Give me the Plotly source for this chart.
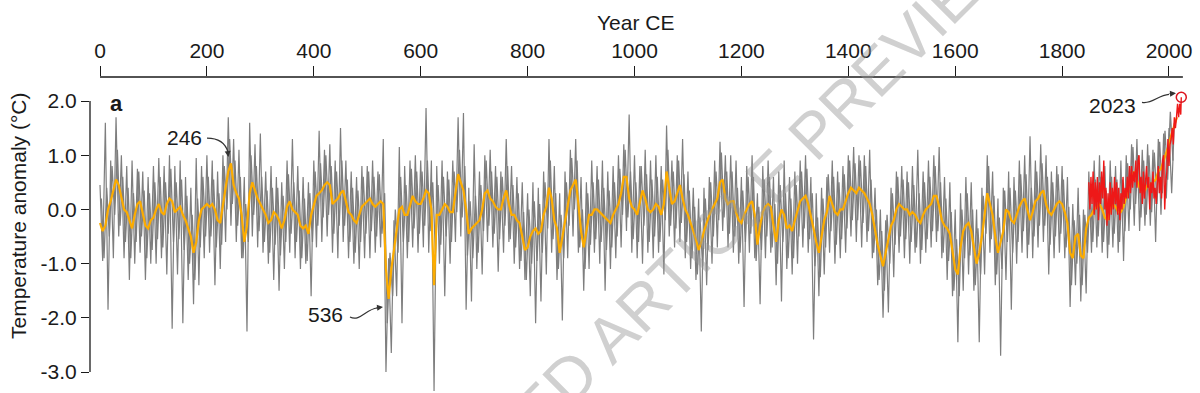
import plotly.graph_objects as go

# ---------------- data ----------------
# Smoothed reconstruction (orange), 5-year steps starting at year 0
orange = [
    -0.25, -0.4, -0.3, 0.0, 0.15, 0.35, 0.55, 0.45, 0.2, 0.0, -0.05, -0.2, -0.35, -0.1, 0.1, 0.15, -0.1, -0.3, -0.35, -0.2,
    -0.15, 0.0, 0.1, -0.05, -0.1, 0.1, 0.2, 0.15, -0.05, 0.0, 0.05, -0.1, -0.2, -0.35, -0.5, -0.8, -0.6, -0.2, 0.0, 0.05,
    0.1, 0.05, 0.1, 0.0, -0.2, -0.25, 0.1, 0.4, 0.7, 0.85, 0.45, 0.3, 0.2, -0.1, -0.6, -0.3, 0.3, 0.5, 0.35, 0.2,
    0.1, 0.0, -0.1, -0.25, -0.2, -0.05, -0.1, -0.2, -0.35, -0.2, 0.05, 0.15, 0.0, -0.05, -0.1, -0.3, -0.35, -0.3, -0.45, -0.1,
    0.1, 0.25, 0.3, 0.35, 0.45, 0.5, 0.45, 0.1, 0.15, 0.2, 0.3, 0.35, 0.15, -0.05, -0.1, -0.2, -0.25, -0.1, 0.05, 0.1,
    0.15, 0.2, 0.1, 0.05, 0.1, 0.15, 0.1, -1.1, -1.65, -1.1, -0.75, -0.35, 0.0, 0.05, -0.1, -0.1, 0.1, 0.25, 0.15, 0.1,
    0.1, 0.2, 0.35, 0.3, 0.0, -1.4, -0.1, -0.1, 0.0, 0.1, 0.05, -0.05, -0.05, 0.3, 0.65, 0.5, 0.35, 0.0, -0.45, -0.35,
    -0.3, -0.25, -0.2, 0.0, 0.3, 0.35, 0.2, 0.15, 0.05, 0.0, 0.0, 0.2, 0.35, 0.1, -0.1, -0.1, -0.2, -0.25, -0.5, -0.75,
    -0.7, -0.5, -0.4, -0.35, -0.45, -0.4, -0.1, 0.05, 0.4, 0.2, -0.2, -0.35, -0.8, -0.5, -0.2, 0.1, 0.35, 0.45, 0.55, 0.1,
    -0.4, -0.7, -0.4, -0.1, -0.1, 0.0, 0.0, -0.05, -0.1, -0.15, -0.2, -0.25, -0.1, 0.0, 0.1, 0.3, 0.6, 0.6, 0.2, 0.05,
    0.0, -0.1, 0.1, 0.35, 0.2, 0.0, -0.05, 0.0, 0.1, 0.05, -0.1, 0.1, 0.7, 0.4, 0.1, 0.15, 0.3, 0.45, 0.2, 0.0,
    -0.1, -0.25, -0.4, -0.55, -0.75, -0.6, -0.4, -0.25, -0.1, 0.0, 0.1, 0.2, 0.5, 0.55, 0.2, 0.1, 0.15, 0.15, -0.05, -0.2,
    -0.25, -0.1, 0.0, 0.1, 0.15, -0.1, -0.65, -0.3, -0.05, 0.05, 0.1, 0.05, -0.3, -0.6, -0.2, 0.0, -0.1, -0.35, -0.3, -0.4,
    -0.2, 0.0, 0.15, 0.2, 0.25, 0.1, -0.1, -0.35, -0.6, -0.8, -0.5, -0.2, -0.05, 0.25, 0.1, -0.05, -0.1, 0.0, 0.0, 0.15,
    0.3, 0.4, 0.35, 0.3, 0.4, 0.35, 0.3, 0.2, 0.1, -0.1, -0.4, -0.65, -0.85, -1.05, -0.8, -0.55, -0.3, -0.2, 0.0, 0.1,
    0.05, 0.0, 0.0, -0.1, -0.05, -0.1, -0.2, -0.25, -0.1, 0.0, 0.05, 0.1, 0.25, 0.25, 0.05, -0.2, -0.3, -0.35, -0.45, -0.8,
    -1.1, -1.2, -0.7, -0.4, -0.3, -0.25, -0.4, -0.7, -1.0, -0.8, -0.5, -0.1, 0.3, 0.1, -0.1, -0.5, -0.8, -0.6, -0.4, 0.0,
    -0.05, -0.2, -0.25, -0.1, 0.05, 0.15, 0.2, 0.0, -0.2, -0.05, 0.15, 0.2, 0.3, 0.35, 0.1, -0.05, -0.1, 0.0, 0.1, 0.15,
    0.1, -0.05, -0.25, -0.8, -0.9, -0.5, -0.45, -0.85, -0.9, -0.35, -0.15, -0.1, 0.0, 0.05, 0.1, 0.0, -0.15, -0.2, 0.0, 0.1,
    0.05, -0.05, -0.05, 0.05, 0.25, 0.4, 0.6, 0.7, 0.55, 0.4, 0.35, 0.35, 0.45, 0.45, 0.5, 0.55, 0.7, 0.75, 0.9, 1.05,
    1.2, 1.4, 1.55, 1.7,
]

# Annual-scale reconstruction (gray), read as alternating highs / lows every 5 years from year 0
gray = [
    0.45, -0.95, 1.6, -1.85, 0.9, -0.9, 1.7, -0.5, 1.0, -0.9, 0.8, -1.3, 0.9, -1.0, 0.75, -0.8, 0.7, -1.3, 0.6, -1.0,
    0.8, -1.0, 0.95, -0.9, 0.8, -1.2, 1.0, -2.2, 0.8, -1.2, 0.9, -2.1, 0.6, -1.3, 0.4, -1.75, 0.95, -1.4, 0.8, -0.9,
    1.0, -0.8, 0.9, -1.4, 0.7, -1.1, 1.0, -0.6, 1.7, -0.3, 1.3, -0.6, 1.1, -0.9, 0.6, -2.25, 1.6, -0.5, 1.2, -0.7,
    1.4, -0.8, 0.7, -1.0, 0.8, -1.3, 0.6, -1.5, 0.5, -1.1, 0.9, -0.8, 1.3, -0.9, 0.8, -1.1, 0.6, -1.0, 0.5, -1.6,
    0.9, -0.7, 1.45, -0.6, 1.1, -0.5, 1.2, -0.8, 0.9, -0.9, 1.5, -0.6, 0.9, -0.9, 0.7, -1.0, 0.6, -1.1, 0.8, -0.9,
    0.8, -0.9, 0.9, -0.8, 0.7, -0.7, 1.3, -3.0, -0.9, -2.65, -0.2, -1.6, 1.15, -2.1, 0.8, -0.9, 0.9, -0.7, 1.0, -0.8,
    0.9, -0.7, 1.87, -0.8, 0.9, -3.35, 0.8, -1.0, 0.9, -1.6, 0.7, -1.0, 0.9, -0.6, 1.7, -0.5, 1.78, -1.85, 0.4, -1.7,
    1.2, -1.1, 0.7, -1.2, 1.0, -0.6, 1.1, -0.7, 0.8, -1.15, 0.7, -0.8, 1.3, -0.6, 0.8, -1.0, 0.6, -1.1, 0.5, -1.3,
    0.3, -1.6, 0.5, -2.1, 0.4, -1.7, 0.7, -1.2, 1.3, -0.8, 0.8, -1.3, 0.3, -2.05, 0.7, -0.9, 1.1, -0.5, 1.3, -0.8,
    0.6, -1.5, 0.5, -1.1, 0.9, -0.8, 0.8, -1.0, 0.9, -1.5, 0.7, -1.1, 0.8, -0.9, 1.0, -0.7, 1.2, -0.4, 1.75, -0.8,
    1.0, -0.9, 0.8, -1.0, 1.1, -0.8, 0.9, -0.9, 1.0, -0.8, 0.8, -1.2, 1.55, -0.5, 0.9, -0.7, 1.0, -0.6, 1.3, -0.9,
    0.7, -1.1, 0.4, -1.3, 0.2, -2.25, 0.4, -1.4, 0.6, -1.0, 0.9, -0.7, 1.25, -0.4, 1.0, -0.7, 1.0, -0.8, 0.9, -1.0,
    0.6, -1.8, 0.8, -0.8, 1.0, -0.9, 0.3, -1.75, 0.8, -0.9, 0.9, -0.8, 0.6, -1.4, 0.7, -1.7, 0.9, -1.1, 0.6, -1.2,
    0.7, -1.0, 0.9, -0.7, 1.0, -0.8, 0.6, -2.4, 0.3, -1.6, 0.4, -1.2, 0.6, -0.8, 0.9, -1.0, 0.7, -0.9, 0.8, -0.8,
    1.0, -0.5, 1.15, -0.6, 1.0, -0.7, 1.0, -0.6, 1.1, -0.9, 0.4, -1.4, 0.0, -2.0, -0.2, -1.9, 0.4, -1.25, 0.7, -0.8,
    0.8, -0.9, 0.7, -1.0, 0.8, -0.8, 1.1, -1.0, 0.7, -0.8, 0.9, -0.7, 1.0, -0.6, 1.15, -0.9, 0.6, -1.3, 0.5, -1.6,
    0.0, -2.45, 0.3, -1.5, 0.6, -1.2, 0.5, -1.5, 0.0, -2.45, 0.4, -1.2, 1.0, -0.8, 0.7, -1.4, 0.2, -2.7, 0.4, -1.3,
    0.7, -1.85, 0.6, -1.0, 0.9, -0.8, 1.0, -0.9, 1.35, -0.9, 0.9, -0.7, 1.2, -0.6, 1.0, -1.2, 0.7, -0.9, 0.8, -0.8,
    0.8, -0.9, 0.6, -1.8, 0.1, -1.4, 0.4, -1.7, 0.0, -1.55, 0.7, -0.8, 0.9, -0.7, 1.0, -0.8, 0.8, -0.9, 0.9, -0.7,
    0.8, -0.8, 0.9, -0.95, 1.0, -0.4, 1.2, -0.3, 1.3, -0.4, 1.1, -0.3, 1.2, -0.3, 1.1, -0.6, 1.3, -0.1, 1.4, 0.2,
    1.5, 0.3, 1.6,
]

# In-between years of the gray series (years 2.5, 7.5, ...), the dense core of the band
gray_mid = [
    0.2, -0.9, 0.4, -0.5, 0.8, -0.1, 1.1, -0.3, 0.6, -0.6, 0.4, -0.9, 0.3, -0.6, 0.7, -0.5, 0.35, -0.9, 0.3, -0.75,
    0.5, -0.55, 0.6, -0.7, 0.5, -0.45, 0.75, -0.6, 0.5, -0.55, 0.55, -0.75, 0.25, -1.0, -0.1, -1.3, 0.2, -0.7, 0.6, -0.5,
    0.6, -0.5, 0.55, -0.7, 0.3, -0.65, 0.8, 0.0, 1.3, 0.1, 0.9, -0.3, 0.6, -0.9, 0.1, -0.6, 1.0, -0.1, 0.8, -0.4,
    0.6, -0.6, 0.35, -0.8, 0.4, -0.65, 0.4, -0.85, 0.25, -0.6, 0.65, -0.45, 0.5, -0.6, 0.35, -0.9, 0.2, -0.95, 0.3, -0.6,
    0.7, -0.3, 0.85, -0.15, 1.0, -0.1, 0.8, -0.45, 0.7, -0.3, 0.9, -0.3, 0.55, -0.6, 0.4, -0.8, 0.35, -0.6, 0.6, -0.45,
    0.7, -0.4, 0.6, -0.5, 0.65, -0.45, 0.3, -2.1, -0.8, -1.6, 0.0, -0.8, 0.6, -0.6, 0.45, -0.6, 0.75, -0.35, 0.7, -0.45,
    0.7, -0.3, 0.9, -0.4, 0.5, -0.8, 0.45, -0.65, 0.6, -0.5, 0.55, -0.6, 0.7, -0.05, 1.1, -0.15, 0.8, -0.85, 0.15, -0.9,
    0.25, -0.8, 0.45, -0.4, 0.9, -0.3, 0.7, -0.45, 0.6, -0.55, 0.6, -0.3, 0.8, -0.55, 0.45, -0.7, 0.3, -0.95, -0.05, -1.3,
    0.0, -1.0, 0.15, -0.95, 0.1, -0.8, 0.5, -0.35, 0.9, -0.55, 0.3, -1.1, -0.1, -0.9, 0.5, -0.3, 0.95, 0.0, 0.9, -0.7,
    0.0, -1.1, 0.3, -0.65, 0.5, -0.55, 0.55, -0.6, 0.4, -0.75, 0.35, -0.7, 0.5, -0.5, 0.75, -0.1, 1.1, -0.15, 0.7, -0.55,
    0.5, -0.6, 0.8, -0.3, 0.65, -0.6, 0.55, -0.5, 0.6, -0.6, 0.55, -0.2, 1.1, -0.3, 0.7, -0.35, 0.9, -0.25, 0.65, -0.6,
    0.35, -0.9, 0.05, -1.2, -0.15, -1.05, 0.2, -0.75, 0.5, -0.5, 0.7, -0.2, 1.05, -0.15, 0.7, -0.45, 0.7, -0.5, 0.4, -0.8,
    0.35, -0.6, 0.6, -0.45, 0.6, -0.95, 0.05, -0.75, 0.55, -0.5, 0.6, -0.7, 0.1, -1.0, 0.45, -0.6, 0.3, -0.9, 0.2, -0.9,
    0.45, -0.5, 0.7, -0.35, 0.75, -0.55, 0.3, -1.05, -0.15, -1.25, 0.2, -0.7, 0.65, -0.4, 0.6, -0.65, 0.5, -0.55, 0.65, -0.35,
    0.9, -0.2, 0.85, -0.2, 0.9, -0.25, 0.8, -0.4, 0.55, -0.8, 0.0, -1.3, -0.4, -1.5, -0.1, -1.0, 0.3, -0.65, 0.6, -0.5,
    0.55, -0.55, 0.5, -0.6, 0.45, -0.7, 0.3, -0.75, 0.5, -0.55, 0.6, -0.4, 0.8, -0.4, 0.5, -0.8, 0.2, -0.95, -0.05, -1.5,
    -0.55, -1.6, 0.0, -0.9, 0.3, -0.85, 0.0, -1.4, -0.35, -1.2, 0.25, -0.45, 0.8, -0.55, 0.25, -1.2, -0.15, -1.1, 0.35, -0.6,
    0.4, -0.8, 0.35, -0.6, 0.65, -0.4, 0.65, -0.65, 0.4, -0.5, 0.7, -0.3, 0.85, -0.3, 0.6, -0.65, 0.5, -0.5, 0.65, -0.45,
    0.55, -0.7, 0.05, -1.4, -0.2, -1.0, -0.1, -1.4, -0.1, -0.8, 0.4, -0.6, 0.55, -0.5, 0.6, -0.6, 0.35, -0.65, 0.6, -0.45,
    0.55, -0.6, 0.55, -0.4, 0.85, 0.0, 1.15, 0.1, 1.0, -0.15, 0.9, -0.1, 1.0, -0.05, 1.05, 0.1, 1.25, 0.3, 1.45, 0.55,
    1.8, 0.9,
]

# Instrumental record (red)
red_years = list(range(1850, 2023, 2)) + [2023]
red = [
    0.5, 0.0, 0.6, 0.1, 0.7, -0.1, 0.5, 0.0, 0.6, -0.2,
    0.5, 0.1, 0.7, 0.2, 0.9, 0.0, 0.4, -0.3, 0.3, -0.2,
    0.5, -0.1, 0.4, 0.0, 0.6, 0.1, 0.5, -0.1, 0.4, -0.2,
    0.3, 0.0, 0.6, 0.1, 0.4, 0.2, 0.6, 0.2, 0.8, 0.3,
    0.8, 0.4, 0.7, 0.5, 0.9, 0.4, 0.9, 1.0, 0.3, 0.6,
    0.1, 0.7, 0.2, 0.5, 0.8, 0.4, 0.6, 0.0, 0.5, 0.3,
    0.7, 0.2, 0.4, 0.1, 0.6, 0.8, 0.3, 0.6, 0.2, 0.9,
    1.0, 0.0, 0.5, 0.7, 1.3, 0.8, 1.2, 1.3, 1.5, 1.2,
    1.7, 1.5, 1.7, 1.95, 1.7, 1.95, 1.75,
    2.07,
]

orange_years = [5 * i for i in range(len(orange))]
gray_years = [5 * i for i in range(len(gray))]
gray_mid_years = [2.5 + 5 * i for i in range(len(gray_mid))]

x_ticks = [0, 200, 400, 600, 800, 1000, 1200, 1400, 1600, 1800, 2000]
y_ticks = [-3, -2, -1, 0, 1, 2]
y_tick_text = ["-3.0", "-2.0", "-1.0", "0.0", "1.0", "2.0"]

FONT = "Liberation Sans, Arial, sans-serif"
INK = "#1a1a1a"
GRAY = "rgb(126,126,126)"

fig = go.Figure()
fig.add_trace(go.Scatter(x=gray_mid_years, y=gray_mid, mode="lines",
                         line=dict(color=GRAY, width=1.3), hoverinfo="skip"))
fig.add_trace(go.Scatter(x=gray_years, y=gray, mode="lines",
                         line=dict(color=GRAY, width=1.2), hoverinfo="skip"))
fig.add_trace(go.Scatter(x=orange_years, y=orange, mode="lines",
                         line=dict(color="rgb(252,172,0)", width=2.2), hoverinfo="skip"))
fig.add_trace(go.Scatter(x=red_years, y=red, mode="lines",
                         line=dict(color="rgb(238,24,24)", width=1.4), hoverinfo="skip"))
fig.add_trace(go.Scatter(x=[red_years[-1]], y=[red[-1]], mode="markers",
                         marker=dict(symbol="circle-open", size=10, color="rgb(220,20,30)",
                                     line=dict(width=1.5)), hoverinfo="skip"))

fig.update_layout(
    width=1200, height=393,
    margin=dict(l=90, r=10, t=77, b=0),
    paper_bgcolor="white", plot_bgcolor="white",
    showlegend=False,
    font=dict(family=FONT, size=21, color=INK),
    xaxis=dict(side="top", range=[-18.71, 2039.3], tickvals=x_ticks,
               ticks="outside", ticklen=10, tickwidth=1.3, tickcolor=INK,
               showline=False, showgrid=False, zeroline=False,
               tickfont=dict(size=21, family=FONT, color=INK)),
    yaxis=dict(range=[-3.387, 2.443], tickvals=y_ticks, ticktext=y_tick_text,
               ticks="outside", ticklen=8, tickwidth=1.3, tickcolor=INK,
               showline=False, showgrid=False, zeroline=False,
               tickfont=dict(size=21, family=FONT, color=INK)),
)

shapes = [
    # axis lines
    dict(type="line", xref="x", yref="paper", x0=0, x1=2026, y0=1, y1=1,
         line=dict(color=INK, width=1.3)),
    dict(type="line", xref="paper", yref="y", x0=0, x1=0, y0=-3, y1=2,
         line=dict(color=INK, width=1.3)),
    # curved annotation leaders
    dict(type="path", xref="x", yref="y",
         path="M 200.2,1.317 Q 232.0,1.317 239.5,1.059",
         line=dict(color="#333", width=1.2)),
    dict(type="path", xref="x", yref="y",
         path="M 467.7,-1.985 C 486.4,-2.077 497.7,-1.838 518.2,-1.819",
         line=dict(color="#333", width=1.2)),
    dict(type="path", xref="x", yref="y",
         path="M 1949.5,1.976 C 1968.2,1.935 1979.4,2.111 2000.0,2.124",
         line=dict(color="#333", width=1.2)),
]
fig.update_layout(shapes=shapes)

ann = [
    dict(text="Year CE", xref="paper", yref="paper", x=0.4955, y=1.174,
         showarrow=False, xanchor="center", yanchor="middle", font=dict(size=21)),
    dict(text="Temperature anomaly (°C)", xref="paper", yref="paper", x=-0.0655, y=0.56,
         showarrow=False, textangle=-90, xanchor="center", yanchor="middle", font=dict(size=21)),
    dict(text="<b>a</b>", xref="paper", yref="paper", x=0.0245, y=0.9146,
         showarrow=False, xanchor="center", yanchor="middle", font=dict(size=22)),
    dict(text="246", xref="x", yref="y", x=159, y=1.336, showarrow=False,
         xanchor="center", yanchor="middle", font=dict(size=21)),
    dict(text="536", xref="x", yref="y", x=421, y=-1.93, showarrow=False,
         xanchor="center", yanchor="middle", font=dict(size=21)),
    dict(text="2023", xref="x", yref="y", x=1895, y=1.926, showarrow=False,
         xanchor="center", yanchor="middle", font=dict(size=21)),
    # arrow heads
    dict(text="", xref="x", yref="y", x=240.2, y=0.967, ax=-1, ay=-8, showarrow=True,
         arrowhead=2, arrowsize=1, arrowwidth=1.2, arrowcolor="#333", standoff=0),
    dict(text="", xref="x", yref="y", x=529.5, y=-1.801, ax=-8, ay=1, showarrow=True,
         arrowhead=2, arrowsize=1, arrowwidth=1.2, arrowcolor="#333", standoff=0),
    dict(text="", xref="x", yref="y", x=2013.1, y=2.142, ax=-8, ay=0.5, showarrow=True,
         arrowhead=2, arrowsize=1, arrowwidth=1.2, arrowcolor="#333", standoff=0),
    # watermark (runs off the plot corners, as in the reference)
    dict(text="ACCEPTED ARTICLE PREVIEW", xref="paper", yref="paper", x=0.5318, y=0.3797,
         showarrow=False, textangle=-45, xanchor="center", yanchor="middle",
         font=dict(size=64, color="rgba(150,150,150,0.45)")),
]
fig.update_layout(annotations=ann)

fig.write_html("out.html")
